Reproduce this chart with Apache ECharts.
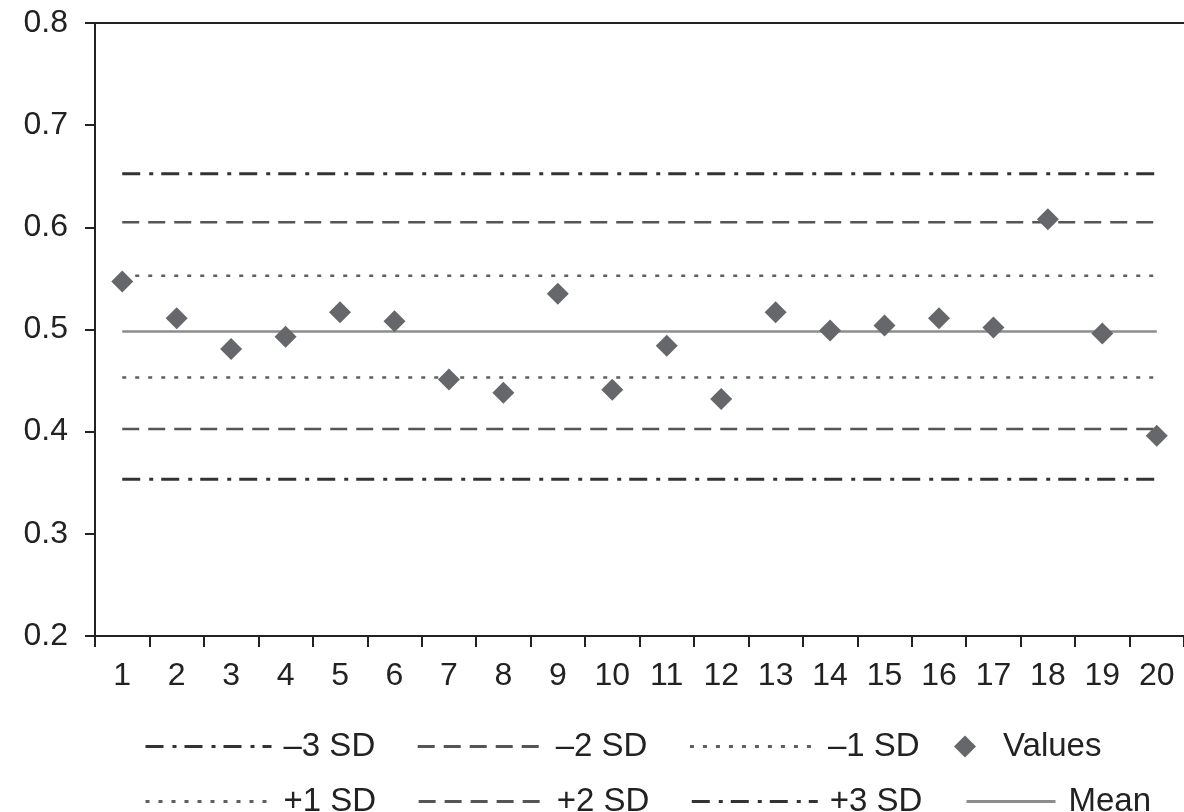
<!DOCTYPE html>
<html>
<head>
<meta charset="utf-8">
<script src="https://cdn.jsdelivr.net/npm/echarts@6/dist/echarts.min.js"></script>
<style>
html,body{margin:0;padding:0;background:#fff;}
#chart{width:1184px;height:812px;}
</style>
</head>
<body>
<div id="chart"></div>
<script>
// ---- data ----
var categories = ['1','2','3','4','5','6','7','8','9','10','11','12','13','14','15','16','17','18','19','20'];
var values = [0.547, 0.511, 0.481, 0.493, 0.517, 0.508, 0.451, 0.438, 0.535, 0.441, 0.484, 0.432, 0.517, 0.499, 0.504, 0.511, 0.502, 0.608, 0.496, 0.396];
var mean = 0.498;
var minus1SD = 0.453;
var minus2SD = 0.4025;
var minus3SD = 0.3535;
var plus1SD = 0.5525;
var plus2SD = 0.605;
var plus3SD = 0.6525;
var yTicks = [0.2, 0.3, 0.4, 0.5, 0.6, 0.7, 0.8];

var FONT = '"Liberation Sans", Arial, Helvetica, sans-serif';
var DARK = '#222222';

var styles = {
  dashDot: {color: '#333333', width: 3, type: [18, 9, 4, 8]},
  dashed:  {color: '#555555', width: 2.5, type: [17, 9]},
  dotted:  {color: '#5f5f5f', width: 2.5, type: [4, 9]},
  solid:   {color: '#8c8c8c', width: 2.5, type: 'solid'}
};

function refLine(name, v, st) {
  return {
    name: name,
    type: 'line',
    data: [[categories[0], v], [categories[categories.length - 1], v]],
    symbol: 'none',
    showSymbol: false,
    silent: true,
    z: 1,
    lineStyle: st,
    itemStyle: {color: st.color},
    animation: false
  };
}

var hiddenSymbol = {opacity: 0, color: 'rgba(0,0,0,0)', borderWidth: 0};
var legendText = {fontFamily: FONT, fontSize: 33, color: DARK, padding: [0, 0, 0, 7]};

var option = {
  backgroundColor: '#ffffff',
  animation: false,
  grid: {left: 95, top: 23, width: 1096, height: 613, containLabel: false},
  xAxis: [{
    type: 'category',
    data: categories,
    position: 'bottom',
    boundaryGap: true,
    axisLine: {show: true, lineStyle: {color: DARK, width: 2}},
    axisTick: {show: true, length: 11, inside: false, interval: 0, lineStyle: {color: DARK, width: 2}},
    axisLabel: {show: true, interval: 0, margin: 24, fontFamily: FONT, fontSize: 32, color: DARK},
    splitLine: {show: false}
  }, {
    type: 'category',
    data: categories,
    position: 'top',
    axisLine: {show: true, lineStyle: {color: DARK, width: 2}},
    axisTick: {show: false},
    axisLabel: {show: false},
    splitLine: {show: false}
  }],
  yAxis: {
    type: 'value',
    min: yTicks[0],
    max: yTicks[yTicks.length - 1],
    interval: 0.1,
    axisLine: {show: true, lineStyle: {color: DARK, width: 2}},
    axisTick: {show: true, length: 10, inside: false, lineStyle: {color: DARK, width: 2}},
    axisLabel: {margin: 27, fontFamily: FONT, fontSize: 32, color: DARK,
      formatter: function (v) { return v.toFixed(1); }},
    splitLine: {show: false}
  },
  legend: [{
    left: 139, top: 725, orient: 'horizontal',
    itemWidth: 126, itemHeight: 14, itemGap: 41,
    data: ['–3 SD', '–2 SD', '–1 SD'],
    itemStyle: hiddenSymbol,
    lineStyle: {width: 3},
    textStyle: legendText,
    selectedMode: false
  }, {
    left: 949, top: 725,
    itemWidth: 22, itemHeight: 22,
    data: [{name: 'Values', icon: 'diamond'}],
    itemStyle: {opacity: 1},
    textStyle: {fontFamily: FONT, fontSize: 33, color: DARK, padding: [0, 0, 0, 22]},
    selectedMode: false
  }, {
    left: 139, top: 780, orient: 'horizontal',
    itemWidth: 126, itemHeight: 14, itemGap: 41,
    data: ['+1 SD', '+2 SD', '+3 SD'],
    itemStyle: hiddenSymbol,
    lineStyle: {width: 3},
    textStyle: legendText,
    selectedMode: false
  }, {
    left: 960, top: 780,
    itemWidth: 89, itemHeight: 14,
    data: ['Mean'],
    itemStyle: hiddenSymbol,
    lineStyle: {width: 3},
    textStyle: {fontFamily: FONT, fontSize: 33, color: DARK, padding: [0, 0, 0, 8]},
    selectedMode: false
  }],
  series: [
    refLine('–3 SD', minus3SD, styles.dashDot),
    refLine('–2 SD', minus2SD, styles.dashed),
    refLine('–1 SD', minus1SD, styles.dotted),
    refLine('+1 SD', plus1SD, styles.dotted),
    refLine('+2 SD', plus2SD, styles.dashed),
    refLine('+3 SD', plus3SD, styles.dashDot),
    refLine('Mean', mean, styles.solid),
    {
      name: 'Values',
      type: 'scatter',
      data: values,
      symbol: 'diamond',
      symbolSize: 22,
      z: 5,
      itemStyle: {color: '#66676a', opacity: 1},
      animation: false
    }
  ]
};

var chart = echarts.init(document.getElementById('chart'), null, {renderer: 'canvas'});
chart.setOption(option);
</script>
</body>
</html>
